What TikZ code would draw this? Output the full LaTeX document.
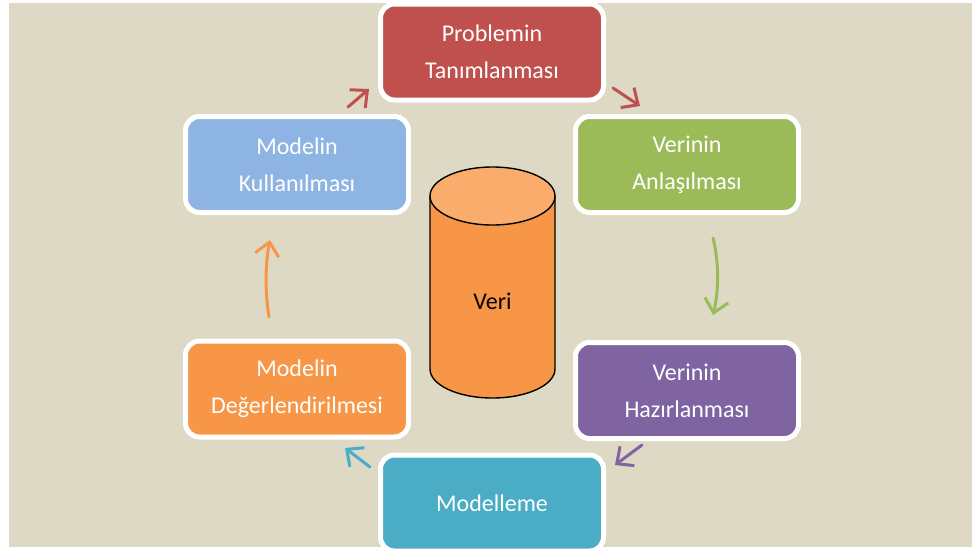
\documentclass[tikz,border=0pt]{standalone}
\usepackage{fontspec}
\setmainfont{Carlito}
\usetikzlibrary{arrows.meta}
\definecolor{paper}{HTML}{DDD9C4}
\definecolor{cred}{HTML}{C0504D}
\definecolor{cgreen}{HTML}{9BBB59}
\definecolor{cpurple}{HTML}{8064A2}
\definecolor{cteal}{HTML}{4BACC6}
\definecolor{corange}{HTML}{F79646}
\definecolor{cblue}{HTML}{8EB4E3}
\definecolor{ctop}{HTML}{FAAC6D}
\tikzset{
  stagebox/.style={draw=white, line width=5pt, rounded corners=14pt,
    minimum width=223pt, minimum height=96pt, align=center,
    text=white, font=\fontsize{24}{37}\selectfont, inner sep=0pt},
  cyclearrow/.style={line width=3pt, line cap=round,
    -{Straight Barb[length=13pt,width=24pt,line width=3pt]}}
}
\begin{document}
\begin{tikzpicture}[x=1pt,y=-1pt]
\useasboundingbox (0,0) rectangle (972,550);
\clip (0,0) rectangle (972,550);
\fill[white] (0,0) rectangle (972,550);
\fill[paper] (9,3) rectangle (972,547);

% stages of the cycle
\node[stagebox, fill=cred]    (prob) at (492,52)    {Problemin\\Tanımlanması};
\node[stagebox, fill=cgreen]  (anla) at (687,164.5) {Verinin\\Anlaşılması};
\node[stagebox, fill=cpurple] (hazi) at (687,390.5) {Verinin\\Hazırlanması};
\node[stagebox, fill=cteal]   (mode) at (492,503)   {Modelleme};
\node[stagebox, fill=corange] (degr) at (297,389)   {Modelin\\Değerlendirilmesi};
\node[stagebox, fill=cblue]   (kull) at (297,164.5) {Modelin\\Kullanılması};

% data cylinder in the middle
\fill[corange] (430,196) -- (430,369) arc[start angle=180, end angle=360, x radius=62.5, y radius=-29]
  -- (555,196) -- cycle;
\draw[line width=1.4pt] (430,196) -- (430,369) arc[start angle=180, end angle=360, x radius=62.5, y radius=-29]
  -- (555,196);
\draw[line width=1.4pt, fill=ctop] (492.5,196) ellipse[x radius=62.5, y radius=29];
\node[font=\fontsize{24}{29}\selectfont, text=black] (veri) at (492.5,301) {Veri};

% arrow end points
\coordinate (a1s) at (348,107); \coordinate (a1e) at (369,89);
\coordinate (a2s) at (613,88);  \coordinate (a2e) at (640,106);
\coordinate (a3s) at (713,238); \coordinate (a3e) at (713,315);
\coordinate (a4s) at (642,445); \coordinate (a4e) at (615,465);
\coordinate (a5s) at (370,467); \coordinate (a5e) at (345,448);
\coordinate (a6s) at (269,317); \coordinate (a6e) at (270,240);

% arrows between stages
\draw[cyclearrow, cred]    (a1s) -- (a1e);
\draw[cyclearrow, cred]    (a2s) -- (a2e);
\draw[cyclearrow, cgreen]  (a3s) .. controls (719,262) and (719,290) .. (a3e);
\draw[cyclearrow, cpurple] (a4s) -- (a4e);
\draw[cyclearrow, cteal]   (a5s) -- (a5e);
\draw[cyclearrow, corange] (a6s) .. controls (265,292) and (265,265) .. (a6e);
\end{tikzpicture}
\end{document}
